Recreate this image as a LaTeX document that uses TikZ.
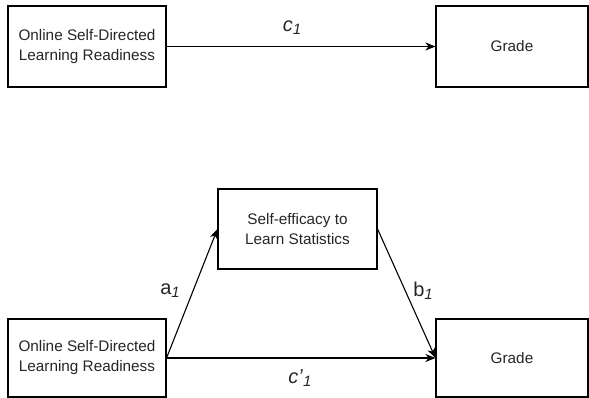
\documentclass[tikz,border=0pt]{standalone}
\usepackage{fontspec}
\setmainfont{Liberation Sans}
\usetikzlibrary{arrows.meta}
\newcommand{\subone}{\raisebox{-0.3ex}{\fontsize{15}{15}\selectfont\itshape 1}}
\begin{document}
\begin{tikzpicture}[x=1pt,y=-1pt,
  boxnode/.style={draw=black, line width=1.1pt, fill=white, text=black!85, align=center,
    font=\fontsize{15.3}{20}\selectfont},
  conn/.style={line width=1.1pt, -{Stealth[length=10pt,width=8pt,inset=3pt]}},
  lab/.style={font=\fontsize{20}{22}\selectfont, text=black!85, inner sep=0pt}]
\useasboundingbox (0,0) rectangle (589,398);
\node[boxnode, minimum width=158pt, minimum height=81pt] (x1) at (87,46.5) {Online Self-Directed\\Learning Readiness};
\node[boxnode, minimum width=152pt, minimum height=81pt] (y1) at (512,46.5) {Grade};
\node[boxnode, minimum width=159pt, minimum height=80pt] (m) at (297.5,229) {Self-efficacy to\\Learn Statistics};
\node[boxnode, minimum width=158pt, minimum height=78pt] (x2) at (87,358) {Online Self-Directed\\Learning Readiness};
\node[boxnode, minimum width=152pt, minimum height=78pt] (y2) at (512,358) {Grade};
\draw[conn] (x1.east) -- (y1.west);
\draw[conn] (x2.east) -- (m.west);
\draw[conn] (m.east) -- (y2.west);
\draw[conn] (x2.east) -- (y2.west);
\node[lab] (lc) at (292,28) {\textit{c}\subone};
\node[lab] (la) at (170,291) {a\subone};
\node[lab] (lb) at (423,291) {b\subone};
\node[lab] (lcp) at (300,378) {\textit{c'}\subone};
\end{tikzpicture}
\end{document}
